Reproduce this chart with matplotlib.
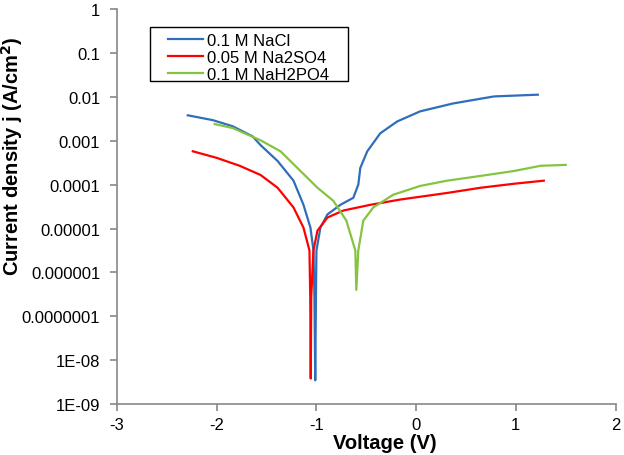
import numpy as np
import matplotlib.pyplot as plt
from matplotlib.patches import Rectangle

plt.rcParams['font.family'] = ['Liberation Sans', 'DejaVu Sans']
plt.rcParams['axes.unicode_minus'] = False

# values (voltage in V, log10 of current density in A/cm2)
nacl_v = [-2.29, -2.04, -1.84, -1.64, -1.56, -1.39, -1.23, -1.13, -1.06, -1.03,
          -1.02, -1.012, -1.005, -1.0, -0.96, -0.89, -0.76, -0.63, -0.58, -0.56,
          -0.49, -0.36, -0.19, 0.04, 0.37, 0.78, 1.22]
nacl_log = [-2.42, -2.53, -2.67, -2.90, -3.10, -3.46, -3.91, -4.46, -4.98, -5.50,
            -6.56, -8.46, -6.56, -5.50, -4.98, -4.68, -4.46, -4.30, -4.00, -3.62,
            -3.24, -2.83, -2.56, -2.33, -2.15, -1.99, -1.95]

na2so4_v = [-2.24, -2.0, -1.77, -1.56, -1.39, -1.23, -1.13, -1.07, -1.062, -1.057,
            -1.052, -1.03, -0.99, -0.89, -0.73, -0.46, -0.16, 0.31, 0.65, 0.98, 1.28]
na2so4_log = [-3.24, -3.39, -3.57, -3.78, -4.07, -4.52, -4.98, -5.50, -6.56, -8.42,
              -6.56, -5.50, -5.05, -4.75, -4.59, -4.46, -4.34, -4.19, -4.07, -3.98, -3.91]

nah2po4_v = [-2.02, -1.84, -1.56, -1.36, -1.16, -0.99, -0.83, -0.70, -0.61, -0.60,
             -0.58, -0.53, -0.43, -0.23, 0.04, 0.31, 0.65, 0.98, 1.25, 1.50]
nah2po4_log = [-2.62, -2.71, -2.99, -3.24, -3.69, -4.07, -4.37, -4.82, -5.50, -6.40,
               -5.50, -4.82, -4.52, -4.23, -4.03, -3.91, -3.80, -3.69, -3.57, -3.55]

ytick_vals = [1, 0.1, 0.01, 0.001, 0.0001, 0.00001, 0.000001, 0.0000001, 1e-8, 1e-9]
ytick_labels = ['1', '0.1', '0.01', '0.001', '0.0001', '0.00001', '0.000001',
                '0.0000001', '1E-08', '1E-09']

fig = plt.figure(figsize=(6.24, 4.56), dpi=100)
ax = fig.add_axes([0.1875, 0.1118, 0.799, 0.866])

ax.plot(nacl_v, 10 ** np.array(nacl_log), color='#2F6EBA', lw=1.6, label='0.1 M NaCl')
ax.plot(na2so4_v, 10 ** np.array(na2so4_log), color='#FF0000', lw=1.6, label='0.05 M Na2SO4')
ax.plot(nah2po4_v, 10 ** np.array(nah2po4_log), color='#84C441', lw=1.6, label='0.1 M NaH2PO4')

ax.set_yscale('log')
ax.set_ylim(1e-9, 1)
ax.set_xlim(-3, 2)
ax.set_yticks(ytick_vals)
ax.set_yticklabels(ytick_labels)
ax.minorticks_off()
ax.set_xticks([-3, -2, -1, 0, 1, 2])

for s in ['top', 'right']:
    ax.spines[s].set_visible(False)
for s in ['left', 'bottom']:
    ax.spines[s].set_color('#888888')
    ax.spines[s].set_linewidth(1.2)
ax.tick_params(colors='#888888', labelcolor='black', labelsize=12, length=5, width=1.2)
ax.tick_params(axis='y', pad=7)
ax.tick_params(axis='x', pad=4)

ax.set_xlabel('Voltage (V)', fontsize=14.5, fontweight='bold')
ax.set_ylabel('Current density j (A/cm$^\\mathbf{2}$)', fontsize=14.5, fontweight='bold')
ax.xaxis.set_label_coords(0.538, -0.074)
ax.yaxis.set_label_coords(-0.184, 0.63)

# legend text and handles, with a hand-placed frame around them
leg = ax.legend(loc='upper left', bbox_to_anchor=(0.1024, 0.94), fontsize=12,
                frameon=False, handlelength=2.1, handletextpad=0.25,
                borderpad=0, labelspacing=0.12, borderaxespad=0)
ax.add_patch(Rectangle((0.0663, 0.818), 0.3976, 0.137, transform=ax.transAxes,
                       fill=False, edgecolor='black', lw=1.0, zorder=5))

fig.savefig('out.png', dpi=100)
